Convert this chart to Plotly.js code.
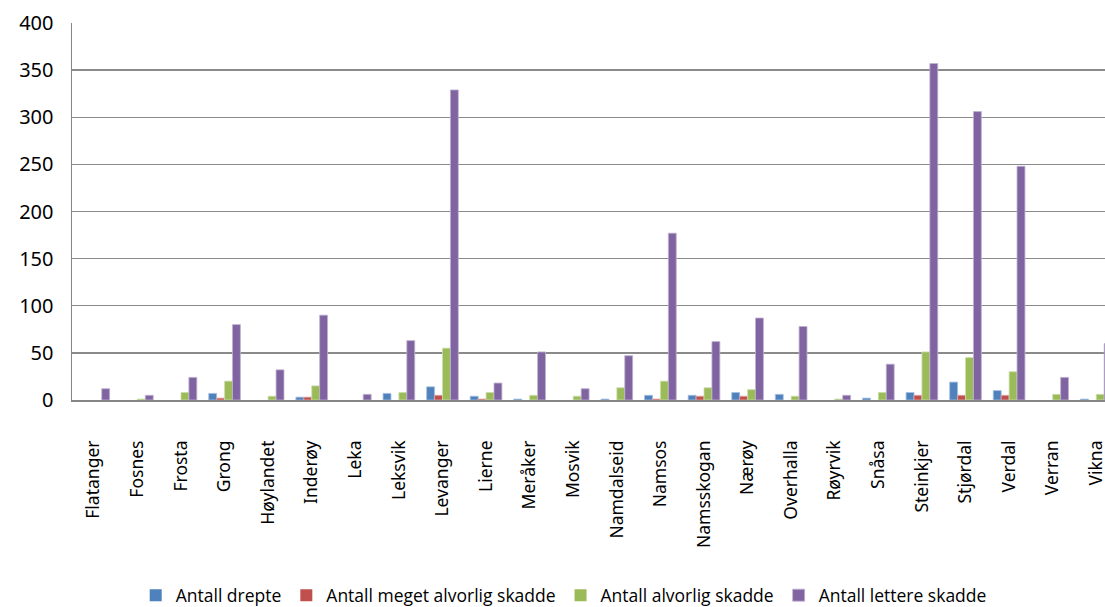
<!DOCTYPE html>
<html>
<head>
<meta charset="utf-8">
<script src="https://cdn.plot.ly/plotly-3.0.1.min.js"></script>
<style>html,body{margin:0;padding:0;background:#fff;}#chart{width:1105px;height:607px;}</style>
</head>
<body>
<div id="chart"></div>
<script>
const categories = ["Flatanger","Fosnes","Frosta","Grong","Høylandet","Inderøy","Leka","Leksvik","Levanger","Lierne","Meråker","Mosvik","Namdalseid","Namsos","Namsskogan","Nærøy","Overhalla","Røyrvik","Snåsa","Steinkjer","Stjørdal","Verdal","Verran","Vikna"];
const drepte        = [0,0,0,7,0,3,0,7,14,4,1,0,1,5,5,8,6,0,2,8,19,10,0,1];
const megetAlvorlig = [0,0,0,2,0,3,0,0,5,1,0,0,0,1,4,4,0,0,0,5,5,5,0,0];
const alvorlig      = [0,1,8,20,4,15,0,8,55,8,5,4,13,20,13,11,4,1,8,51,45,30,6,6];
const lettere       = [12,5,24,80,32,90,6,63,329,18,51,12,47,177,62,87,78,5,38,357,306,248,24,60];
const seriesNames = ["Antall drepte","Antall meget alvorlig skadde","Antall alvorlig skadde","Antall lettere skadde"];
const yTicks = [0,50,100,150,200,250,300,350,400];

const colors = ["#4F81BD","#C0504D","#9BBB59","#8064A2"];
const edges  = ["#A7C0DE","#E0A8A6","#CDDDAC","#C0B2D1"];
const allSeries = [drepte, megetAlvorlig, alvorlig, lettere];
const traces = allSeries.map((vals,i)=>({
  type:'bar', x:categories, y:vals, name:seriesNames[i],
  marker:{color:colors[i], line:{width:vals.map(v=>v>0?0.8:0), color:edges[i]}},
  hoverinfo:'x+y+name'
}));

const layout = {
  width:1105, height:607,
  margin:{l:72, r:0, t:23, b:207, pad:0, autoexpand:false},
  paper_bgcolor:'#ffffff', plot_bgcolor:'#ffffff',
  barmode:'group', bargap:0.273, bargroupgap:0,
  font:{family:'"Noto Sans", "Open Sans", sans-serif', color:'#000'},
  xaxis:{
    type:'category', range:[-0.5, 23.2], tickangle:-90, automargin:false,
    showgrid:false, showline:true, linecolor:'#868686', linewidth:1.5,
    ticks:'outside', ticklen:32, tickcolor:'rgba(0,0,0,0)',
    tickfont:{size:17.5, family:'"Noto Sans", sans-serif', color:'#000'},
    fixedrange:true
  },
  yaxis:{
    range:[0,400], tickvals:yTicks, ticktext:yTicks.map(String), automargin:false,
    showgrid:true, gridcolor:'#8a8a8a', gridwidth:1.3,
    showline:true, linecolor:'#868686', linewidth:1.5,
    zeroline:false, ticks:'outside', ticklen:13, tickcolor:'rgba(0,0,0,0)',
    tickfont:{size:20, family:'"Noto Sans", sans-serif', color:'#000'},
    fixedrange:true
  },
  showlegend:true,
  legend:{
    orientation:'h', x:0.476, xanchor:'center', y:-0.518, yanchor:'middle',
    font:{size:17.5, family:'"Open Sans", sans-serif', color:'#000'},
    itemwidth:30, traceorder:'normal'
  }
};
Plotly.newPlot('chart', traces, layout, {displayModeBar:false, staticPlot:true});
</script>
</body>
</html>
